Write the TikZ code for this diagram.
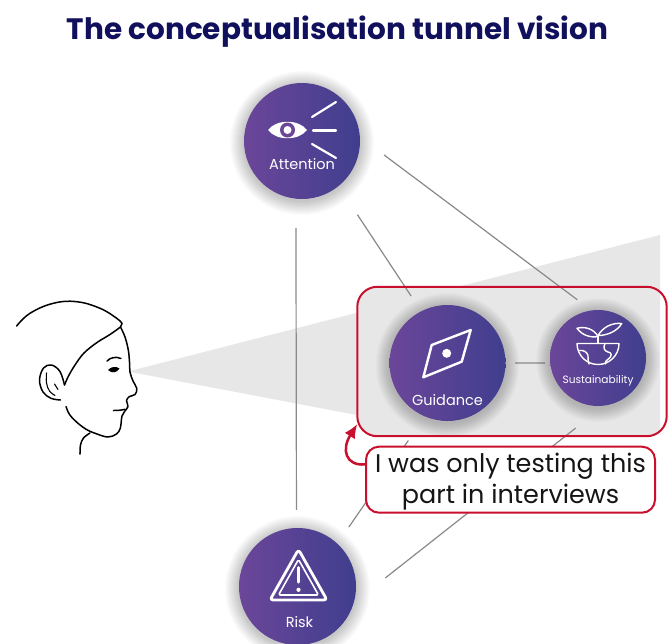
\documentclass[tikz,border=0pt]{standalone}
\usepackage{fontspec}
\setmainfont{Poppins}
\usetikzlibrary{arrows.meta}

\definecolor{navy}{HTML}{10105C}
\definecolor{purpL}{HTML}{6B4699}
\definecolor{purpM}{HTML}{5F4496}
\definecolor{purpR}{HTML}{403E8E}
\definecolor{hlred}{HTML}{C8102E}
\definecolor{conegray}{HTML}{E7E7E7}
\definecolor{linkgray}{HTML}{8A8A8A}
\definecolor{inktext}{HTML}{151515}

% soft shadow under a disc: name, radius in pt
\newcommand\discglow[2]{%
  \foreach \k in {1,...,14}{%
    \fill[black,opacity=0.015] ([yshift=-2pt]#1.center) circle[radius={#2pt+\k pt}];}}

\begin{document}
\begin{tikzpicture}[x=1pt,y=-1pt,
  disc/.style={circle, inner sep=0pt, minimum size=#1,
    left color=purpL, middle color=purpM, right color=purpR},
  link/.style={draw=linkgray, line width=1.2pt},
  icon/.style={draw=white, line width=2.2pt, line cap=round, line join=round},
  lbl/.style={text=white, anchor=base, inner sep=0pt, font=\fontsize{14.5}{16}\selectfont},
  headline/.style={draw=black, line width=1.5pt, line cap=round, line join=round},
  frame/.style={draw=hlred, line width=2pt, rounded corners=20pt},
  notebox/.style={draw=hlred, fill=white, line width=2pt, rounded corners=13pt,
    minimum width=289pt, minimum height=66pt, inner sep=0pt},
  notetxt/.style={inner sep=0pt, align=center, text=inktext,
    font=\fontsize{25.5}{31}\selectfont},
]
\useasboundingbox (0,0) rectangle (669,643);
\fill[white] (0,0) rectangle (669,643);

% title
\node[anchor=base, inner sep=0pt, text=navy, font=\fontsize{29.5}{34}\selectfont\bfseries]
  (title) at (337.5,39) {The conceptualisation tunnel vision};

% viewing cone and the highlighted area
\coordinate (eyept) at (128,371.5);
\node[inner sep=0pt, minimum width=309pt, minimum height=149pt] (focus) at (512,361.5) {};
\fill[conegray] (eyept) -- (660,235) -- (660,300) -- (380,300) -- (380,419.4) -- cycle;
\begin{scope}
  \clip (0,0) rectangle (660,643);
  \fill[conegray, rounded corners=20pt] (focus.south west) rectangle (focus.north east);
\end{scope}

% disc positions
\path (302,141) coordinate (attc) (447.5,363) coordinate (guidc)
      (598,358) coordinate (susc) (297.5,586.5) coordinate (riskc);
\node[inner sep=0pt, circle, minimum size=116pt] (att) at (attc) {};
\node[inner sep=0pt, circle, minimum size=116pt] (guid) at (guidc) {};
\node[inner sep=0pt, circle, minimum size=96pt] (sus) at (susc) {};
\node[inner sep=0pt, circle, minimum size=117pt] (risk) at (riskc) {};

% connectors
\draw[link, shorten <=29pt, shorten >=18pt] (att.-96) -- (risk.91);
\draw[link, shorten <=34pt, shorten >=18pt] (att.-51.6) -- (guid.117);
\draw[link, shorten <=30pt, shorten >=17.5pt] (att.4.2) -- (sus.98.4);
\draw[link, shorten <=9.5pt, shorten >=5pt] (guid.0) -- (sus.186);
\draw[link, shorten <=36pt, shorten >=40pt] (sus.-83.7) -- (risk.-16.2);
\draw[link, shorten <=29pt, shorten >=20pt] (guid.-113.5) -- (risk.47.8);

% shadows and discs
\discglow{att}{58}
\discglow{guid}{58}
\discglow{sus}{48}
\discglow{risk}{58.5}
\node[disc=116pt] at (attc) {};
\node[disc=116pt] at (guidc) {};
\node[disc=96pt] at (susc) {};
\node[disc=117pt] at (riskc) {};

% attention icon: eye with rays
\fill[white] (268,130) .. controls (276,119) and (299,119) .. (307,130)
  .. controls (299,141) and (276,141) .. (268,130);
\fill[purpL] (287.5,130) circle[radius=7.5pt];
\fill[white] (287.5,130) circle[radius=4pt];
\draw[icon] (312,117) -- (336,102);
\draw[icon] (313,130.5) -- (336,130.5);
\draw[icon] (312,144) -- (336,158);
\node[lbl] (attlbl) at (302,169.5) {Attention};

% guidance icon: compass needle
\draw[icon, line width=2.4pt] (470.7,330) -- (461.7,361.7) -- (423.3,377.3) -- (431.7,345) -- cycle;
\fill[white] (446.7,353.3) circle[radius=4.5pt];
\node[lbl] (guidlbl) at (447.5,405) {Guidance};

% sustainability icon: half globe with sprout
\begin{scope}[icon, line width=1.4pt]
  \draw (577,343.5) -- (619,343.5) .. controls (619,355.1) and (609.6,364.5) .. (598,364.5)
    .. controls (586.4,364.5) and (577,355.1) .. (577,343.5);
  \draw (579,350.5) .. controls (583,350) and (587,351.5) .. (588,355.5)
    .. controls (589,359) and (587,361) .. (589,364);
  \draw (605,343.5) .. controls (603,347.5) and (604,351) .. (608,352)
    .. controls (612,352.5) and (612,356) .. (609,358.5) .. controls (606,360.5) and (605,362) .. (605.5,364);
  \draw (598,343.5) -- (598,335.5);
  \draw (598,336.5) .. controls (594,329) and (585,326) .. (577,328.3)
    .. controls (582,335) and (590,338) .. (598,336.5);
  \draw (598,335.5) .. controls (603,327) and (612,322.5) .. (621.7,323.5)
    .. controls (617,331.5) and (607,335.5) .. (598,335.5);
\end{scope}
\node[lbl, font=\fontsize{10.6}{12}\selectfont] (suslbl) at (598,383) {Sustainability};

% risk icon: warning triangle
\draw[icon, line width=2.8pt, rounded corners=3pt] (298.5,549.5) -- (327,600) -- (270,600) -- cycle;
\draw[icon, line width=1.6pt, rounded corners=1.5pt] (298.5,559.5) -- (318.5,595) -- (278.5,595) -- cycle;
\draw[icon, line width=3pt] (298.5,567.5) -- (298.5,582);
\fill[white] (298.5,589.8) circle[radius=2.1pt];
\node[lbl] (risklbl) at (299.5,627.5) {Risk};

% highlighted area frame and note
\draw[frame] (focus.south west) rectangle (focus.north east);
\node[notebox] (note) at (510.5,479.7) {};
\node[notetxt] (notetext) at (510.5,481.8) {I was only testing this\\part in interviews};
\draw[draw=hlred, line width=2.5pt, -{Latex[length=14pt,width=12pt]}]
  (note.174) .. controls (346,466) and (341,450) .. (focus.202.7);

% profile of a head
\begin{scope}[headline]
  \draw plot[smooth, tension=0.7] coordinates {(16.7,326) (30,313.3) (53.3,303.3) (76.7,301.7)
    (100,308.3) (116.7,318.3) (122,323.5)};
  \draw (122,323.5) -- (120.5,327);
  \draw plot[smooth, tension=0.6] coordinates {(120.5,327) (125,337) (128.3,350) (129.5,362)
    (130,372) (133,381) (136.8,388.5) (135,394.5) (129.5,396.5) (126.5,400.5) (128,406.5)
    (124.5,411.5) (122,416) (121.2,422) (120.2,428.5) (116.5,434) (108,437) (97,434)
    (86.5,429.5) (76.5,422) (69.5,414.5) (66,406.5)};
  \draw plot[smooth, tension=0.6] coordinates {(120.5,327) (110,334.5) (97,342.5) (84,353)
    (75,365) (68.5,376) (64.5,385)};
  \draw plot[smooth, tension=0.6] coordinates {(64.5,385) (60,371.5) (51.5,365) (43.5,368)
    (39.5,380) (43,392) (51,398.3) (60.5,400)};
  \draw[line width=1.1pt] plot[smooth, tension=0.6] coordinates {(46.5,373) (46.5,383) (49.5,391) (55,395.5)};
  \draw[line width=1.1pt] (54.5,384) -- (58,389.5);
  \draw plot[smooth, tension=0.6] coordinates {(80,454) (80.5,445) (83.5,438) (90,433)};
  \draw (107,361) .. controls (111,357) and (116,356.5) .. (121,358.5);
  \draw (113.5,410.5) .. controls (117,410.5) and (121,410.3) .. (125,409.3);
\end{scope}
\fill[black] (108,370) .. controls (111,366.5) and (116,366) .. (119.5,368.5)
  .. controls (117,372.8) and (112,373.8) .. (108,370);
\end{tikzpicture}
\end{document}
